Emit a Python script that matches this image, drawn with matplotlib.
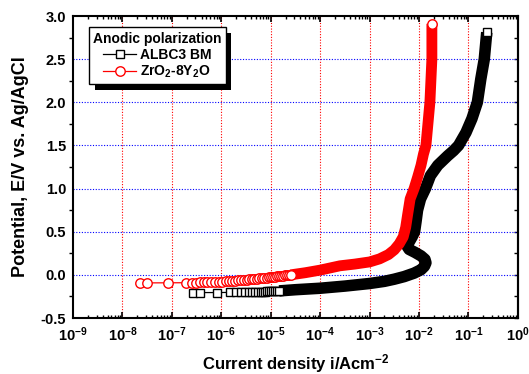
import numpy as np
import matplotlib
matplotlib.use('Agg')
import matplotlib.pyplot as plt
from matplotlib.patches import Rectangle
from matplotlib.transforms import IdentityTransform
from matplotlib.ticker import LogLocator, MultipleLocator, NullFormatter

plt.rcParams['font.family'] = ['Liberation Sans', 'DejaVu Sans']
plt.rcParams['font.weight'] = 'bold'
plt.rcParams['mathtext.fontset'] = 'custom'
plt.rcParams['mathtext.rm'] = 'Liberation Sans:bold'
plt.rcParams['mathtext.it'] = 'Liberation Sans:bold'
plt.rcParams['mathtext.bf'] = 'Liberation Sans:bold'
plt.rcParams['mathtext.default'] = 'rm'

# ---------------- data (log10 of current density in A/cm^2, potential in V) -------------
series_names = ['ALBC3 BM', r'ZrO$_2$-8Y$_2$O']
legend_title = 'Anodic polarization'

# ALBC3 BM : individually visible square markers
albc_sparse_logi = [-6.58, -6.43, -6.08, -5.82, -5.70, -5.61, -5.52, -5.44, -5.38, -5.31,
                    -5.25, -5.19, -5.15, -5.11, -5.07, -5.03, -4.99, -4.95, -4.91, -4.87, -4.83]
albc_sparse_E = [-0.205, -0.205, -0.205, -0.203, -0.202, -0.201, -0.200, -0.199, -0.198, -0.197,
                 -0.196, -0.195, -0.194, -0.193, -0.192, -0.191, -0.190, -0.189, -0.188, -0.187, -0.186]
# ALBC3 BM : dense part (markers merge into a solid band)
albc_band_logi = [-4.83, -4.50, -4.00, -3.50, -3.00, -2.70, -2.50, -2.30, -2.10, -1.96,
                  -1.89, -1.86, -1.88, -1.96, -2.08, -2.20, -2.24, -2.20, -2.14, -2.09,
                  -2.06, -2.03, -1.97, -1.87, -1.77, -1.62, -1.42, -1.30, -1.20, -1.05,
                  -0.93, -0.82, -0.75, -0.68, -0.63]
albc_band_E = [-0.186, -0.172, -0.155, -0.130, -0.100, -0.075, -0.050, -0.020, 0.020, 0.060,
               0.100, 0.140, 0.180, 0.220, 0.260, 0.295, 0.330, 0.380, 0.440, 0.500,
               0.620, 0.750, 0.880, 1.000, 1.150, 1.270, 1.380, 1.440, 1.500, 1.650,
               1.810, 2.000, 2.270, 2.500, 2.810]

# ZrO2-8Y2O : individually visible circle markers
zro_sparse_logi = [-7.64, -7.50, -7.07, -6.71, -6.60, -6.51, -6.43, -6.35, -6.28, -6.20,
                   -6.13, -6.05, -5.98, -5.91, -5.85, -5.79, -5.73, -5.67, -5.61, -5.55,
                   -5.49, -5.43, -5.38, -5.33, -5.28, -5.23, -5.18, -5.13, -5.08, -5.04,
                   -5.00, -4.96, -4.92, -4.88, -4.84, -4.80, -4.76, -4.72, -4.68, -4.64, -4.60]
zro_sparse_E = [-0.093, -0.093, -0.092, -0.091, -0.090, -0.089, -0.088, -0.087, -0.086, -0.085,
                -0.084, -0.082, -0.079, -0.076, -0.073, -0.070, -0.067, -0.064, -0.061, -0.058,
                -0.055, -0.052, -0.049, -0.046, -0.043, -0.040, -0.037, -0.034, -0.031, -0.028,
                -0.025, -0.022, -0.019, -0.016, -0.013, -0.010, -0.008, -0.006, -0.004, -0.002, 0.000]
# ZrO2-8Y2O : dense part
zro_band_logi = [-4.60, -4.30, -4.00, -3.80, -3.60, -3.30, -3.00, -2.80, -2.62, -2.50,
                 -2.40, -2.32, -2.27, -2.23, -2.18, -2.10, -2.03, -1.96, -1.91, -1.86,
                 -1.82, -1.78, -1.76, -1.74, -1.74]
zro_band_E = [0.000, 0.025, 0.055, 0.080, 0.105, 0.125, 0.150, 0.185, 0.235, 0.290,
              0.360, 0.440, 0.550, 0.700, 0.880, 1.000, 1.130, 1.270, 1.400, 1.500,
              1.750, 2.000, 2.250, 2.500, 2.910]

x_limits = (1e-9, 1e0)
y_limits = (-0.5, 3.0)
x_label = r'Current density i/Acm$^{-2}$'
y_label = 'Potential, E/V vs. Ag/AgCl'

# ---------------- figure -----------------
fig = plt.figure(figsize=(5.29, 3.74), dpi=100)
ax = fig.add_axes([0.138, 0.1497, 0.841, 0.8075])
ax.set_xscale('log')
ax.set_xlim(*x_limits)
ax.set_ylim(*y_limits)

black = 'black'
red = '#ff0000'

# ALBC3
ax.plot(np.power(10.0, albc_band_logi), albc_band_E, color=black, lw=8.3,
        solid_capstyle='butt', solid_joinstyle='round', zorder=2.5)
ln_a, = ax.plot(np.power(10.0, albc_sparse_logi), albc_sparse_E, color=black, lw=0.9,
                marker='s', ms=5.6, mew=1.0, mfc='white', mec=black, zorder=3)
ax.plot(np.power(10.0, albc_band_logi[-1:]), albc_band_E[-1:], ls='none', marker='s',
        ms=5.6, mew=1.0, mfc='white', mec=black, zorder=4)

# ZrO2
ax.plot(np.power(10.0, zro_band_logi), zro_band_E, color=red, lw=7.8,
        solid_capstyle='butt', solid_joinstyle='round', zorder=2.6)
ln_z, = ax.plot(np.power(10.0, zro_sparse_logi), zro_sparse_E, color=red, lw=0.9,
                marker='o', ms=6.8, mew=1.0, mfc='white', mec=red, zorder=3.1)
ax.plot(np.power(10.0, zro_band_logi[-1:]), zro_band_E[-1:], ls='none', marker='o',
        ms=6.8, mew=1.0, mfc='white', mec=red, zorder=4)

# grid
for d in range(-8, 0):
    ax.axvline(10.0 ** d, color='red', ls=(0, (1, 1.5)), lw=0.8, zorder=1)
for yv in [0.0, 0.5, 1.0, 1.5, 2.0, 2.5]:
    ax.axhline(yv, color='blue', ls=(0, (1, 1.5)), lw=0.8, zorder=1)

# ticks
ax.xaxis.set_major_locator(LogLocator(base=10, numticks=20))
ax.xaxis.set_minor_locator(LogLocator(base=10, subs=np.arange(2, 10), numticks=20))
ax.xaxis.set_minor_formatter(NullFormatter())
ax.yaxis.set_major_locator(MultipleLocator(0.5))
ax.yaxis.set_minor_locator(MultipleLocator(0.25))
ax.yaxis.set_major_formatter(plt.FuncFormatter(lambda v, p: f'{v:.1f}'))
ax.tick_params(axis='x', which='major', direction='in', top=True, bottom=True,
               length=4.5, width=1.2, labelsize=10.5, pad=5)
ax.tick_params(axis='x', which='minor', direction='in', top=True, bottom=True,
               length=2.5, width=1.0)
ax.tick_params(axis='y', which='major', left=True, right=False, length=0,
               labelsize=10.5, pad=5)
ax.tick_params(axis='y', which='minor', left=True, right=False, direction='out',
               length=3, width=1.0)
sec = ax.secondary_yaxis('right')
sec.yaxis.set_major_locator(MultipleLocator(0.5))
sec.yaxis.set_minor_locator(MultipleLocator(0.25))
sec.tick_params(axis='y', which='both', direction='in', length=3, width=1.0,
                labelright=False)
sec.spines['right'].set_linewidth(1.5)

for s in ax.spines.values():
    s.set_linewidth(1.5)

ax.set_xlabel(x_label, fontsize=12, fontweight='bold')
ax.set_ylabel(y_label, fontsize=13, fontweight='bold')
ax.xaxis.set_label_coords(0.5, -0.112)
ax.yaxis.set_label_coords(-0.10, 0.5)

# legend
leg = ax.legend([ln_a, ln_z], series_names, title=legend_title, loc='upper left',
                bbox_to_anchor=(0.036, 0.962), borderaxespad=0, fancybox=False,
                framealpha=1, edgecolor='black', fontsize=10, title_fontsize=10,
                handlelength=2.4, handletextpad=0.3, labelspacing=0.15,
                borderpad=0.3, frameon=True)
leg.get_title().set_fontweight('bold')
leg.get_frame().set_linewidth(1.0)
leg.set_zorder(6)

fig.canvas.draw()
bb = leg.get_window_extent()
shadow = Rectangle((bb.x0 + 5.5, bb.y0 - 5.5), bb.width, bb.height, transform=IdentityTransform(),
                   facecolor='black', edgecolor='none', zorder=5.5, clip_on=False)
ax.add_artist(shadow)

fig.savefig('out.png', dpi=100)
